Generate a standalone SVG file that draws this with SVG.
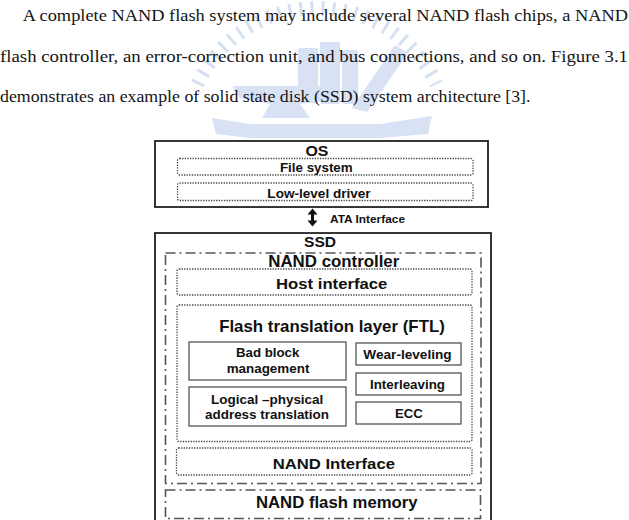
<svg xmlns="http://www.w3.org/2000/svg" width="629" height="520" viewBox="0 0 629 520">
<style>
.p{font-family:"Liberation Serif","Times New Roman",serif;font-size:16.6px;fill:#151515}
.l{font-family:"Liberation Sans",Arial,sans-serif;font-weight:bold;fill:#111;text-anchor:middle}
.solid{fill:none;stroke:#222;stroke-width:1.8}
.dot{fill:none;stroke:#444;stroke-width:1.3;stroke-dasharray:1.3 1.3}
.dd{fill:none;stroke:#555;stroke-width:1.6;stroke-dasharray:10 4 2 4}
.inner{fill:#fff;stroke:#555;stroke-width:1.3}
.wm{fill:#d9e2f4;stroke:none}
</style>
<rect width="629" height="520" fill="#fff"/>
<g id="watermark">
  <path d="M197.4,84.2 A132,132 0 0 1 436.6,84.2" fill="none" stroke="#d6e0f3" stroke-width="14" stroke-dasharray="3 8"/>
  <rect class="wm" x="298" y="48" width="20" height="55" rx="2"/>
  <rect class="wm" x="320" y="42" width="20" height="62" rx="2"/>
  <rect class="wm" x="342" y="50" width="16" height="54" rx="2"/>
  <path class="wm" d="M352,108 L395,45 L408,53 L367,112 Z"/>
  <path class="wm" d="M232,86 L335,86 L330,100 L300,104 L310,118 L262,118 L270,104 L240,98 Z"/>
  <path class="wm" d="M212,118 L250,124 L380,124 L432,116 L428,134 L380,138 L250,138 L216,134 Z"/>
</g>
<g id="paragraph">
  <text class="p" x="22.7" y="21" textLength="605.3" lengthAdjust="spacingAndGlyphs">A complete NAND flash system may include several NAND flash chips, a NAND</text>
  <text class="p" x="0" y="61.7" textLength="628" lengthAdjust="spacingAndGlyphs">flash controller, an error-correction unit, and bus connections, and so on. Figure 3.1</text>
  <text class="p" x="0" y="101.5" textLength="530.5" lengthAdjust="spacingAndGlyphs">demonstrates an example of solid state disk (SSD) system architecture [3].</text>
</g>
<g id="os">
  <rect class="solid" x="155" y="141" width="333" height="66"/>
  <text class="l" x="317" y="155.7" font-size="15" textLength="23" lengthAdjust="spacingAndGlyphs">OS</text>
</g>
<g id="file-system">
  <rect class="dot" x="177.5" y="158.5" width="295.5" height="16.5" rx="2"/>
  <text class="l" x="316.3" y="171.5" font-size="12" textLength="72.7" lengthAdjust="spacingAndGlyphs">File system</text>
</g>
<g id="low-level-driver">
  <rect class="dot" x="177.5" y="183" width="295.5" height="17.5" rx="2"/>
  <text class="l" x="319" y="197.5" font-size="12" textLength="103.3" lengthAdjust="spacingAndGlyphs">Low-level driver</text>
</g>
<g id="connectors">
  <path d="M312.5,208.5 L317.5,214.5 L314,214.5 L314,220.5 L317.5,220.5 L312.5,226.5 L307.5,220.5 L311,220.5 L311,214.5 L307.5,214.5 Z" fill="#111"/>
  <text class="l" x="367.5" y="223.3" font-size="10.8" textLength="75" lengthAdjust="spacingAndGlyphs">ATA Interface</text>
</g>
<g id="ssd">
  <rect class="solid" x="155" y="233" width="336" height="300" stroke-width="2"/>
  <text class="l" x="320" y="246.5" font-size="15.5" textLength="32" lengthAdjust="spacingAndGlyphs">SSD</text>
</g>
<g id="nand-controller">
  <rect class="dd" x="165.5" y="253" width="315.5" height="230.5"/>
  <text class="l" x="333.8" y="266.7" font-size="15.8" textLength="131" lengthAdjust="spacingAndGlyphs">NAND controller</text>
</g>
<g id="host-interface">
  <rect class="dot" x="177" y="269" width="295" height="26" rx="2"/>
  <text class="l" x="331.7" y="289.3" font-size="15.4" textLength="111.3" lengthAdjust="spacingAndGlyphs">Host interface</text>
</g>
<g id="ftl">
  <rect class="dot" x="177" y="305" width="295" height="136.5" rx="2"/>
  <text class="l" x="332" y="331.5" font-size="16.2" textLength="225.7" lengthAdjust="spacingAndGlyphs">Flash translation layer (FTL)</text>
</g>
<g id="bad-block">
  <rect class="inner" x="189" y="342" width="157" height="38"/>
  <text class="l" x="267.7" y="357.3" font-size="12.8" textLength="63.3" lengthAdjust="spacingAndGlyphs">Bad block</text>
  <text class="l" x="268" y="372.7" font-size="12.8" textLength="82.7" lengthAdjust="spacingAndGlyphs">management</text>
</g>
<g id="address-translation">
  <rect class="inner" x="189" y="387" width="157" height="39"/>
  <text class="l" x="267.2" y="404.3" font-size="12.8" textLength="112.3" lengthAdjust="spacingAndGlyphs">Logical –physical</text>
  <text class="l" x="267" y="419" font-size="12.8" textLength="124" lengthAdjust="spacingAndGlyphs">address translation</text>
</g>
<g id="wear-leveling">
  <rect class="inner" x="356" y="343" width="105" height="22"/>
  <text class="l" x="407.5" y="358.5" font-size="12.8" textLength="88.3" lengthAdjust="spacingAndGlyphs">Wear-leveling</text>
</g>
<g id="interleaving">
  <rect class="inner" x="356" y="373" width="105" height="22"/>
  <text class="l" x="407.5" y="388.5" font-size="12.8" textLength="75" lengthAdjust="spacingAndGlyphs">Interleaving</text>
</g>
<g id="ecc">
  <rect class="inner" x="356" y="402" width="105" height="22"/>
  <text class="l" x="408.8" y="417.7" font-size="13" textLength="27.7" lengthAdjust="spacingAndGlyphs">ECC</text>
</g>
<g id="nand-interface">
  <rect class="dot" x="176.5" y="448" width="295.5" height="27" rx="2"/>
  <text class="l" x="333.8" y="469.3" font-size="15.4" textLength="122.3" lengthAdjust="spacingAndGlyphs">NAND Interface</text>
</g>
<g id="nand-flash-memory">
  <rect class="dd" x="165.5" y="490" width="315" height="28.5"/>
  <text class="l" x="336.8" y="508.3" font-size="16.2" textLength="161.7" lengthAdjust="spacingAndGlyphs">NAND flash memory</text>
</g>
</svg>
